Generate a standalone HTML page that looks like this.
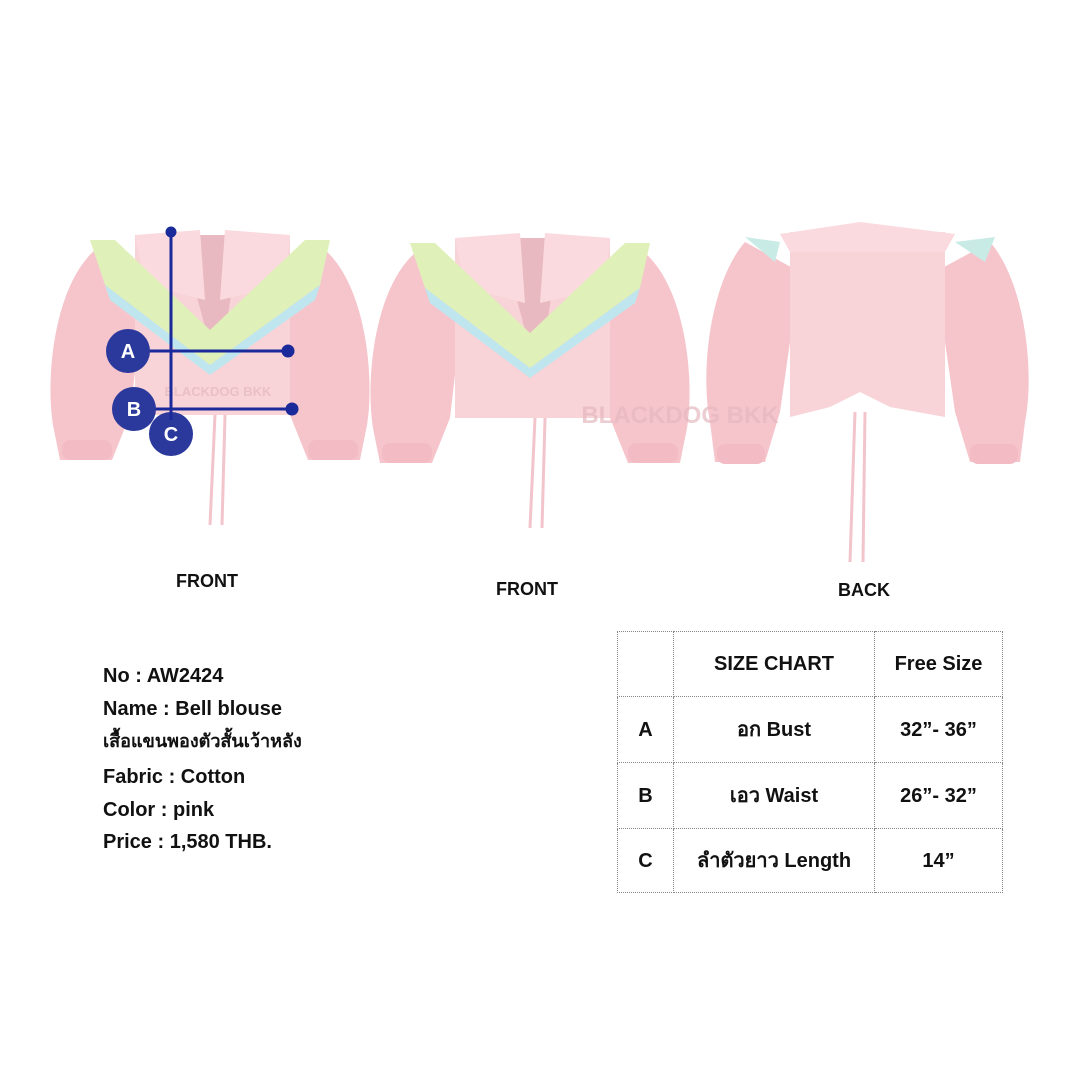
<!DOCTYPE html>
<html><head><meta charset="utf-8"><style>
html,body{margin:0;padding:0;background:#fff;}
body{width:1080px;height:1080px;position:relative;overflow:hidden;font-family:"Liberation Sans",Arial,sans-serif;}
.t{position:absolute;font-weight:bold;color:#111;white-space:nowrap;}
.info{position:absolute;left:103px;font-size:20px;line-height:24px;font-weight:bold;color:#111;white-space:nowrap;}
table{position:absolute;left:617px;top:631px;border-collapse:collapse;font-weight:bold;font-size:20px;color:#111;}
td{border:1px dotted #888;text-align:center;padding:0;line-height:24px;}
</style></head><body>
<svg width="1080" height="1080" style="position:absolute;left:0;top:0">
<defs>
<g id="bl">
  <path d="M165 190 L160 300 M175 190 L172 300" stroke="#f2c4cc" stroke-width="3" fill="none"/>
  <path d="M45 25 C5 60 -5 150 3 200 L10 235 L62 235 L80 190 L95 60 Z" fill="#f6c5cc"/>
  <rect x="12" y="215" width="50" height="20" rx="8" fill="#f3bcc4"/>
  <path d="M275 25 C315 60 325 150 317 200 L310 235 L258 235 L240 190 L225 60 Z" fill="#f6c5cc"/>
  <rect x="258" y="215" width="50" height="20" rx="8" fill="#f3bcc4"/>
  <rect x="85" y="10" width="155" height="180" fill="#f8d3d8"/>
  <path d="M130 10 L190 10 L175 110 L160 120 Z" fill="#e9b9c1"/>
  <path d="M85 10 L150 5 L155 75 L95 60 Z M240 10 L175 5 L170 75 L235 60 Z" fill="#fadade"/>
  <path d="M40 15 L65 15 L160 105 L255 15 L280 15 L270 60 L160 140 L55 60 Z" fill="#dff0b8"/>
  <path d="M55 60 L160 140 L270 60 L265 75 L160 150 L60 75 Z" fill="#bfe6ee"/>
</g>
<g id="bk">
  <path d="M150 190 L145 340 M160 190 L158 340" stroke="#f2c4cc" stroke-width="3" fill="none"/>
  <path d="M40 20 C5 60 -5 150 5 200 L10 240 L60 240 L75 190 L95 50 Z" fill="#f6c5cc"/>
  <rect x="12" y="222" width="48" height="20" rx="8" fill="#f3bcc4"/>
  <path d="M285 20 C320 60 330 150 320 200 L315 240 L265 240 L250 190 L230 50 Z" fill="#f6c5cc"/>
  <rect x="265" y="222" width="48" height="20" rx="8" fill="#f3bcc4"/>
  <path d="M85 10 L240 10 L240 195 L185 185 L155 170 L125 185 L85 195 Z" fill="#f8d3d8"/>
  <path d="M75 12 L155 0 L250 12 L240 30 L85 30 Z" fill="#fadade"/>
  <path d="M40 15 L75 20 L70 40 Z M250 20 L290 15 L280 40 Z" fill="#c8ebe6"/>
</g>
</defs>
<use href="#bl" transform="translate(50,225)"/>
<use href="#bl" transform="translate(370,228)"/>
<use href="#bk" transform="translate(705,222)"/>
<text x="680" y="423" font-family="Liberation Sans" font-weight="bold" font-size="24" fill="#e5b8be" text-anchor="middle" opacity="0.7">BLACKDOG BKK</text>
<text x="218" y="396" font-family="Liberation Sans" font-weight="bold" font-size="13" fill="#e8c0c5" text-anchor="middle">BLACKDOG BKK</text>
<g stroke="#1a2a9a" stroke-width="3" fill="#1a2a9a">
<line x1="140" y1="351" x2="288" y2="351"/>
<line x1="146" y1="409" x2="292" y2="409"/>
<circle cx="171" cy="232" r="4"/><circle cx="288" cy="351" r="5"/><circle cx="292" cy="409" r="5"/>
</g>
<g fill="#2b389c">
<circle cx="128" cy="351" r="22"/><circle cx="134" cy="409" r="22"/><circle cx="171" cy="434" r="22"/>
</g>
<g fill="#fff" font-family="Liberation Sans" font-weight="bold" font-size="20" text-anchor="middle">
<text x="128" y="358">A</text><text x="134" y="416">B</text><text x="171" y="441">C</text>
</g>
<line x1="171" y1="232" x2="171" y2="420" stroke="#1a2a9a" stroke-width="3"/>
</svg>
<div class="t" style="left:176px;top:571px;font-size:18px">FRONT</div>
<div class="t" style="left:496px;top:579px;font-size:18px">FRONT</div>
<div class="t" style="left:838px;top:580px;font-size:18px">BACK</div>
<div class="info" style="top:664px">No : AW2424</div>
<div class="info" style="top:697px">Name : Bell blouse</div>
<div class="info" style="top:729px;font-size:18px">เสื้อแขนพองตัวสั้นเว้าหลัง</div>
<div class="info" style="top:765px">Fabric : Cotton</div>
<div class="info" style="top:798px">Color : pink</div>
<div class="info" style="top:830px">Price : 1,580 THB.</div>
<table>
<tr style="height:65px"><td style="width:55px"></td><td style="width:200px">SIZE CHART</td><td style="width:127px">Free Size</td></tr>
<tr style="height:66px"><td>A</td><td>อก Bust</td><td>32”- 36”</td></tr>
<tr style="height:66px"><td>B</td><td>เอว Waist</td><td>26”- 32”</td></tr>
<tr style="height:64px"><td>C</td><td>ลำตัวยาว Length</td><td>14”</td></tr>
</table>
</body></html>
